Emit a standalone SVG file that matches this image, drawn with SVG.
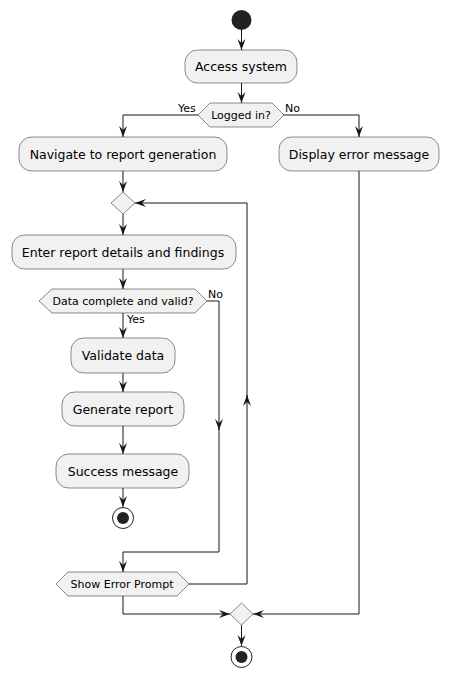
<svg xmlns="http://www.w3.org/2000/svg" width="449" height="678" viewBox="0 0 449 678">
<defs>
<style>
.act{fill:#F1F1F1;stroke:#181818;stroke-width:0.5}
.dec{fill:#F1F1F1;stroke:#181818;stroke-width:0.5}
.t{font-family:"DejaVu Sans",sans-serif;font-size:12.5px;fill:#000;text-anchor:middle}
.td{font-family:"DejaVu Sans",sans-serif;font-size:11px;fill:#000;text-anchor:middle}
.tl{font-family:"DejaVu Sans",sans-serif;font-size:11px;fill:#000}
.ln{fill:none;stroke:#181818;stroke-width:1}
</style>
<marker id="arr" viewBox="0 0 12 10" refX="11" refY="5" markerWidth="12" markerHeight="10" markerUnits="userSpaceOnUse" orient="auto">
<path d="M0,1 L11,5 L0,9 L4,5 Z" fill="#181818"/>
</marker>
</defs>
<rect width="449" height="678" fill="#FFFFFF"/>

<g id="connectors">
<path class="ln" d="M241.5,30 V50" marker-end="url(#arr)"/>
<path class="ln" d="M241.5,83 V103" marker-end="url(#arr)"/>
<path class="ln" d="M198,115 H123 V137" marker-end="url(#arr)"/>
<path class="ln" d="M283,115 H359 V137" marker-end="url(#arr)"/>
<path class="ln" d="M123,171 V192" marker-end="url(#arr)"/>
<path class="ln" d="M123,214 V235" marker-end="url(#arr)"/>
<path class="ln" d="M123,269 V289" marker-end="url(#arr)"/>
<path class="ln" d="M123,313 V338" marker-end="url(#arr)"/>
<path class="ln" d="M123,373 V392" marker-end="url(#arr)"/>
<path class="ln" d="M123,426 V454" marker-end="url(#arr)"/>
<path class="ln" d="M123,488 V507" marker-end="url(#arr)"/>
<path class="ln" d="M207,301 H219 V430" marker-end="url(#arr)"/>
<path class="ln" d="M219,428 V552 H123 V572" marker-end="url(#arr)"/>
<path class="ln" d="M189,584 H247 V395" marker-end="url(#arr)"/>
<path class="ln" d="M247,397 V203 H135" marker-end="url(#arr)"/>
<path class="ln" d="M123,596 V614 H230" marker-end="url(#arr)"/>
<path class="ln" d="M359,171 V614 H253" marker-end="url(#arr)"/>
<path class="ln" d="M241.5,625 V646" marker-end="url(#arr)"/>
<text class="tl" x="178" y="112">Yes</text>
<text class="tl" x="285" y="112">No</text>
<text class="tl" x="208" y="298">No</text>
<text class="tl" x="127" y="323">Yes</text>
</g>

<g id="start"><circle cx="241.5" cy="20" r="10" fill="#222222"/></g>

<g id="access">
<rect class="act" x="185" y="50" width="112" height="33" rx="12.5"/>
<text class="t" x="241" y="71">Access system</text>
</g>

<g id="logged">
<polygon class="dec" points="198,115 210,103 272,103 284,115 272,127 210,127"/>
<text class="td" x="241" y="119">Logged in?</text>
</g>

<g id="navigate">
<rect class="act" x="19" y="137" width="208" height="34" rx="12.5"/>
<text class="t" x="123" y="159">Navigate to report generation</text>
</g>

<g id="display">
<rect class="act" x="279" y="137" width="160" height="34" rx="12.5"/>
<text class="t" x="359" y="159">Display error message</text>
</g>

<g id="merge1">
<polygon class="dec" points="111,203 123,192 135,203 123,214"/>
</g>

<g id="enter">
<rect class="act" x="12" y="235" width="224" height="34" rx="12.5"/>
<text class="t" x="123" y="257">Enter report details and findings</text>
</g>

<g id="datacheck">
<polygon class="dec" points="39,301 52,289 195,289 207,301 195,313 52,313"/>
<text class="td" x="123" y="305">Data complete and valid?</text>
</g>

<g id="validate">
<rect class="act" x="71" y="338" width="104" height="35" rx="12.5"/>
<text class="t" x="123" y="360">Validate data</text>
</g>

<g id="generate">
<rect class="act" x="62" y="392" width="122" height="34" rx="12.5"/>
<text class="t" x="123" y="414">Generate report</text>
</g>

<g id="success">
<rect class="act" x="56" y="454" width="133" height="34" rx="12.5"/>
<text class="t" x="123" y="476">Success message</text>
</g>

<g id="end1">
<circle cx="123" cy="518" r="10.5" fill="none" stroke="#222222" stroke-width="1"/>
<circle cx="123" cy="518" r="6" fill="#222222"/>
</g>

<g id="showerror">
<polygon class="dec" points="56,584 68,572 177,572 189,584 177,596 68,596"/>
<text class="td" x="122" y="588">Show Error Prompt</text>
</g>

<g id="merge2">
<polygon class="dec" points="230,614 241.5,603 253,614 241.5,625"/>
</g>

<g id="end2">
<circle cx="241.5" cy="657" r="10.5" fill="none" stroke="#222222" stroke-width="1"/>
<circle cx="241.5" cy="657" r="6" fill="#222222"/>
</g>
</svg>
